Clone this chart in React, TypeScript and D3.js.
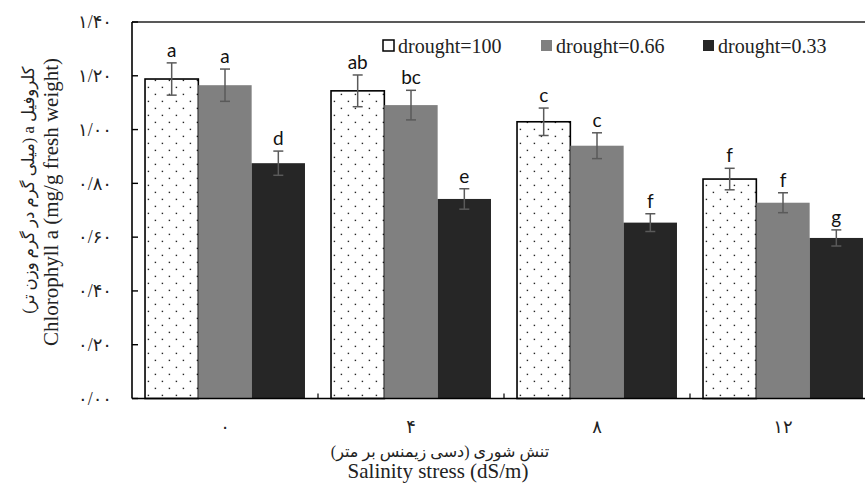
import React from "react";
import * as d3 from "d3";

const categories = ["۰", "۴", "۸", "۱۲"];
const seriesNames = ["drought=100", "drought=0.66", "drought=0.33"];
const valuesD100 = [1.188, 1.144, 1.029, 0.816];
const valuesD066 = [1.165, 1.091, 0.94, 0.728];
const valuesD033 = [0.875, 0.742, 0.654, 0.597];
const errD100 = [0.06, 0.059, 0.051, 0.04];
const errD066 = [0.06, 0.055, 0.048, 0.037];
const errD033 = [0.045, 0.038, 0.033, 0.03];
const lettersD100 = ["a", "ab", "c", "f"];
const lettersD066 = ["a", "bc", "c", "f"];
const lettersD033 = ["d", "e", "f", "g"];
const yTicks = [0, 0.2, 0.4, 0.6, 0.8, 1.0, 1.2, 1.4];
const yTickLabels = ["۰/۰۰", "۰/۲۰", "۰/۴۰", "۰/۶۰", "۰/۸۰", "۱/۰۰", "۱/۲۰", "۱/۴۰"];

const W = 865;
const H = 501;
const left = 132;
const top = 22;
const bottom = 398.5;

const serif = "'Liberation Serif', 'Times New Roman', 'DejaVu Sans', serif";
const latinSerif = "'Liberation Serif', serif";
const letterFont = "Lato, 'Open Sans', sans-serif";

export default function App() {
  const x = d3
    .scaleBand<string>()
    .domain(categories)
    .range([left, left + 186 * 4])
    .paddingInner(0.14)
    .paddingOuter(0.07);
  const xs = d3
    .scaleBand<string>()
    .domain(seriesNames)
    .range([0, x.bandwidth()])
    .padding(0);
  const y = d3.scaleLinear().domain([0, 1.4]).range([bottom, top]);

  const series = [
    { name: seriesNames[0], vals: valuesD100, errs: errD100, letters: lettersD100, fill: "url(#dots)", legendFill: "#fff", stroke: "#000" },
    { name: seriesNames[1], vals: valuesD066, errs: errD066, letters: lettersD066, fill: "#808080", legendFill: "#808080", stroke: "none" },
    { name: seriesNames[2], vals: valuesD033, errs: errD033, letters: lettersD033, fill: "#262626", legendFill: "#262626", stroke: "none" },
  ];

  const legendX = [383, 541, 703];

  return (
    <svg
      width={W}
      height={H}
      style={{ position: "absolute", left: 0, top: 0, background: "#fff" }}
    >
      <defs>
        {categories.map((c, i) => (
          <pattern
            key={c}
            id={`dots${i}`}
            patternUnits="userSpaceOnUse"
            x={x(c) as number}
            y={0}
            width={14}
            height={14}
          >
            <rect width={14} height={14} fill="#fff" />
            <rect x={2.7} y={2.7} width={1.4} height={1.4} fill="#222" />
            <rect x={9.7} y={9.7} width={1.4} height={1.4} fill="#222" />
          </pattern>
        ))}
      </defs>
      <rect width={W} height={H} fill="#fff" />

      {/* bars */}
      {series.map((s, si) =>
        categories.map((c, ci) => {
          const bx = (x(c) as number) + (xs(s.name) as number);
          const by = y(s.vals[ci]);
          return (
            <rect
              key={`${si}-${ci}`}
              x={bx}
              y={by}
              width={xs.bandwidth()}
              height={bottom - by}
              fill={si === 0 ? `url(#dots${ci})` : s.fill}
              stroke={s.stroke}
              strokeWidth={si === 0 ? 1.6 : 0}
            />
          );
        })
      )}

      {/* error bars */}
      {series.map((s, si) =>
        categories.map((c, ci) => {
          const cx = (x(c) as number) + (xs(s.name) as number) + xs.bandwidth() / 2;
          const y1 = y(s.vals[ci] + s.errs[ci]);
          const y2 = y(s.vals[ci] - s.errs[ci]);
          return (
            <g key={`e${si}-${ci}`} stroke="#5a5a5a" strokeWidth={1.5}>
              <line x1={cx} x2={cx} y1={y1} y2={y2} />
              <line x1={cx - 5} x2={cx + 5} y1={y1} y2={y1} />
              <line x1={cx - 5} x2={cx + 5} y1={y2} y2={y2} />
            </g>
          );
        })
      )}

      {/* significance letters */}
      {series.map((s, si) =>
        categories.map((c, ci) => {
          const cx = (x(c) as number) + (xs(s.name) as number) + xs.bandwidth() / 2;
          const y1 = y(s.vals[ci] + s.errs[ci]);
          return (
            <text
              key={`l${si}-${ci}`}
              x={cx}
              y={y1 - 6}
              textAnchor="middle"
              fontFamily={letterFont}
              fontSize={19}
              fill="#111"
            >
              {s.letters[ci]}
            </text>
          );
        })
      )}

      {/* axes and plot frame */}
      <line x1={left} x2={W} y1={top} y2={top} stroke="#222" strokeWidth={1.5} />
      <line x1={left} x2={left} y1={top} y2={bottom} stroke="#000" strokeWidth={1.6} />
      <line x1={left} x2={W} y1={bottom} y2={bottom} stroke="#000" strokeWidth={1.6} />
      {yTicks.map((t) => (
        <line key={`yt${t}`} x1={left} x2={left + 6} y1={y(t)} y2={y(t)} stroke="#000" strokeWidth={1.4} />
      ))}
      {categories.map((c, i) => {
        const bx = (x(c) as number) - (x.step() - x.bandwidth()) / 2;
        return i === 0 ? null : (
          <line key={`xt${c}`} x1={bx} x2={bx} y1={bottom} y2={bottom - 5} stroke="#000" strokeWidth={1.2} />
        );
      })}

      {/* y tick labels */}
      {yTicks.map((t, i) => (
        <text
          key={`ytl${t}`}
          x={112}
          y={y(t)}
          dy="0.35em"
          textAnchor="end"
          fontFamily={serif}
          fontSize={18}
          fill="#222"
          direction="ltr"
        >
          {yTickLabels[i]}
        </text>
      ))}

      {/* x tick labels */}
      {categories.map((c) => (
        <text
          key={`xtl${c}`}
          x={(x(c) as number) + x.bandwidth() / 2}
          y={427}
          dy="0.35em"
          textAnchor="middle"
          fontFamily={serif}
          fontSize={18}
          fill="#222"
        >
          {c}
        </text>
      ))}

      {/* x axis title */}
      <text x={440} y={457} textAnchor="middle" fontFamily={serif} fontSize={16} fill="#222" direction="rtl">
        تنش شوری (دسی زیمنس بر متر)
      </text>
      <text x={438} y={478} textAnchor="middle" fontFamily={latinSerif} fontSize={21} fill="#222">
        Salinity stress (dS/m)
      </text>

      {/* y axis title */}
      <text
        transform="translate(34,190) rotate(-90)"
        textAnchor="middle"
        fontFamily={serif}
        fontSize={16.5}
        fill="#222"
        direction="rtl"
      >
        کلروفیل a (میلی گرم در گرم وزن تر)
      </text>
      <text
        transform="translate(58,202) rotate(-90)"
        textAnchor="middle"
        fontFamily={latinSerif}
        fontSize={21}
        fill="#222"
      >
        Chlorophyll a (mg/g fresh weight)
      </text>

      {/* legend */}
      {series.map((s, i) => (
        <g key={`lg${i}`}>
          <rect
            x={legendX[i]}
            y={40}
            width={11}
            height={11}
            fill={s.legendFill}
            stroke={i === 0 ? "#000" : "none"}
            strokeWidth={1.5}
          />
          <text x={legendX[i] + 15} y={52.5} fontFamily={latinSerif} fontSize={20} fill="#222">
            {s.name}
          </text>
        </g>
      ))}
    </svg>
  );
}
